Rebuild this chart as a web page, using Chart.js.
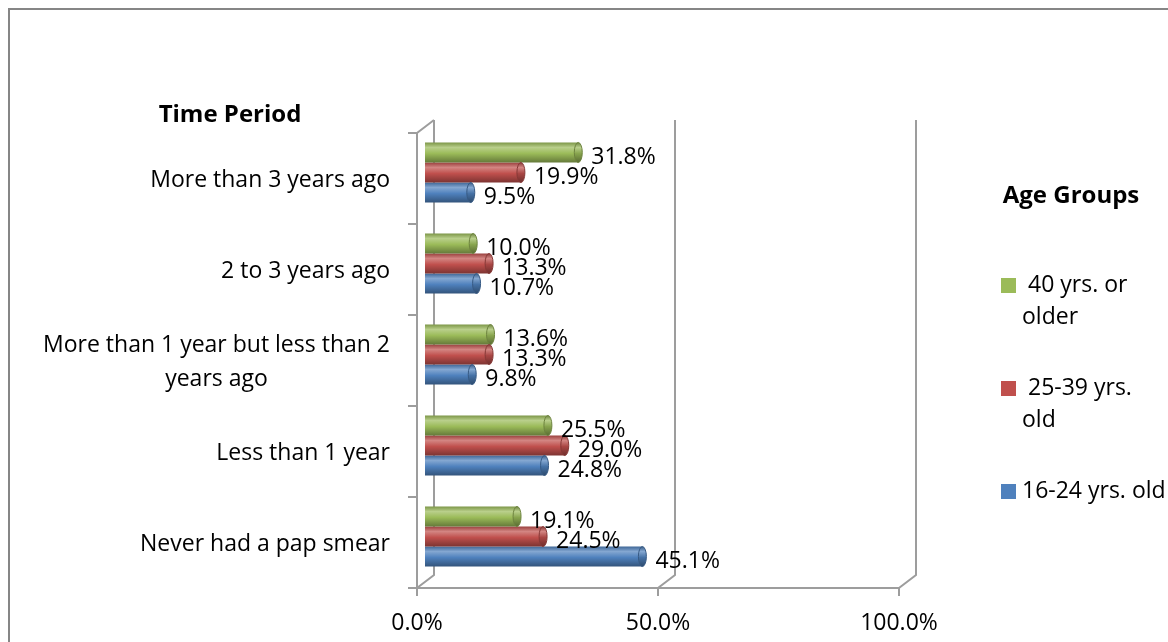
<!DOCTYPE html>
<html>
<head>
<meta charset="utf-8">
<script src="https://cdn.jsdelivr.net/npm/chart.js@4.4.0/dist/chart.umd.min.js"></script>
<style>
  html, body { margin: 0; padding: 0; background: #fff; }
  canvas { display: block; }
</style>
</head>
<body>
<canvas id="papChart" width="1168" height="642"></canvas>
<script>
const categories = ['More than 3 years ago', '2 to 3 years ago', 'More than 1 year but less than 2 years ago', 'Less than 1 year', 'Never had a pap smear'];
const categoryLines = [['More than 3 years ago'], ['2 to 3 years ago'], ['More than 1 year but less than 2', 'years ago'], ['Less than 1 year'], ['Never had a pap smear']];
const seriesNames = ['40 yrs. or older', '25-39 yrs. old', '16-24 yrs. old'];
const legendLines = [[' 40 yrs. or', 'older'], [' 25-39 yrs.', 'old'], ['16-24 yrs. old']];
const olderValues = [31.8, 10.0, 13.6, 25.5, 19.1];
const middleValues = [19.9, 13.3, 13.3, 29.0, 24.5];
const youngValues = [9.5, 10.7, 9.8, 24.8, 45.1];
const xTicks = [0, 50, 100];
const seriesColors = ['#9BBB59', '#C0504D', '#4F81BD'];

const FONT = "'Open Sans', sans-serif";
Chart.defaults.font.family = FONT;
Chart.defaults.color = '#000';

// back wall offset of the 3d frame, bars sit half way in
const depth = { dx: 17, dy: 13 };
const barShift = { dx: 8, dy: -6 };

function mix(hex, f) {
    let r = parseInt(hex.slice(1, 3), 16), g = parseInt(hex.slice(3, 5), 16), b = parseInt(hex.slice(5, 7), 16);
    if (f < 1) { r *= f; g *= f; b *= f; }
    else { const t = f - 1; r += (255 - r) * t; g += (255 - g) * t; b += (255 - b) * t; }
    return `rgb(${Math.round(r)},${Math.round(g)},${Math.round(b)})`;
}

function cylGradient(ctx, color, top, bottom, k) {
    const gr = ctx.createLinearGradient(0, top, 0, bottom);
    gr.addColorStop(0, mix(color, 0.8 * k));
    gr.addColorStop(0.25, mix(color, 1.3));
    gr.addColorStop(0.55, mix(color, 1.0 * k));
    gr.addColorStop(1, mix(color, 0.65 * k));
    return gr;
}

const frame3d = {
    id: 'frame3d',
    beforeDraw(chart) {
        const ctx = chart.ctx;
        const { left, right, top, bottom } = chart.chartArea;
        const xs = chart.scales.x, ys = chart.scales.y;
        ctx.save();
        ctx.strokeStyle = '#868686';
        ctx.lineWidth = 2;
        ctx.strokeRect(9, 9, 1400, 900);

        ctx.strokeStyle = '#9d9d9d';
        ctx.lineWidth = 2;
        ctx.beginPath();
        xTicks.forEach(v => {
            const px = xs.getPixelForValue(v);
            ctx.moveTo(px, bottom + 8);
            ctx.lineTo(px, bottom);
            ctx.lineTo(px + depth.dx, bottom - depth.dy);
            ctx.lineTo(px + depth.dx, top - depth.dy);
        });
        ctx.moveTo(left, bottom);
        ctx.lineTo(right, bottom);
        ctx.moveTo(left, bottom);
        ctx.lineTo(left, top);
        ctx.lineTo(left + depth.dx, top - depth.dy);
        for (let i = 0; i <= categories.length; i++) {
            const py = ys.getPixelForValue(i - 0.5);
            ctx.moveTo(left - 9, py);
            ctx.lineTo(left, py);
        }
        ctx.stroke();
        ctx.restore();
    },
    beforeDatasetsDraw(chart) {
        const ctx = chart.ctx;
        ctx.save();
        ctx.translate(barShift.dx, barShift.dy);
        chart.data.datasets.forEach((ds, di) => {
            chart.getDatasetMeta(di).data.forEach(el => {
                const h = el.height;
                const gr = cylGradient(ctx, seriesColors[di], el.y - h / 2, el.y + h / 2, 1);
                el.options = Object.assign({}, el.options, { backgroundColor: gr });
            });
        });
    },
    afterDatasetsDraw(chart) {
        const ctx = chart.ctx;
        // end caps of the cylinders
        chart.data.datasets.forEach((ds, di) => {
            chart.getDatasetMeta(di).data.forEach(el => {
                const h = el.height;
                ctx.beginPath();
                ctx.ellipse(el.x, el.y, 4, h / 2, 0, 0, Math.PI * 2);
                ctx.fillStyle = cylGradient(ctx, seriesColors[di], el.y - h / 2, el.y + h / 2, 0.88);
                ctx.fill();
                ctx.strokeStyle = mix(seriesColors[di], 0.7);
                ctx.lineWidth = 1;
                ctx.stroke();
            });
        });
        // value labels
        ctx.font = `23px ${FONT}`;
        ctx.fillStyle = '#000';
        ctx.textAlign = 'left';
        ctx.textBaseline = 'middle';
        chart.data.datasets.forEach((ds, di) => {
            chart.getDatasetMeta(di).data.forEach((el, i) => {
                ctx.fillText(ds.data[i].toFixed(1) + '%', el.x + 13, el.y + 5);
            });
        });
        ctx.restore();
    },
    afterDraw(chart) {
        const ctx = chart.ctx;
        const ys = chart.scales.y;
        ctx.save();
        ctx.fillStyle = '#000';
        ctx.textBaseline = 'middle';

        ctx.font = `bold 24px ${FONT}`;
        ctx.textAlign = 'center';
        ctx.fillText('Time Period', 230, 115);
        ctx.fillText('Age Groups', 1071, 196);

        // category labels
        ctx.font = `23px ${FONT}`;
        const labelRight = 390, lh = 34;
        categoryLines.forEach((lines, i) => {
            const cy = ys.getPixelForValue(i) + 2;
            const w = Math.max(...lines.map(t => ctx.measureText(t).width));
            const cx = labelRight - w / 2;
            lines.forEach((t, j) => {
                ctx.fillText(t, cx, cy + (j - (lines.length - 1) / 2) * lh);
            });
        });

        // legend
        ctx.textAlign = 'left';
        let ly = 285;
        legendLines.forEach((lines, i) => {
            ctx.fillStyle = seriesColors[i];
            ctx.fillRect(1001, ly - 7, 15, 15);
            ctx.fillStyle = '#000';
            lines.forEach((t, j) => ctx.fillText(t, 1022, ly + j * 32));
            ly += lines.length * 32 + 39;
        });
        ctx.restore();
    }
};

new Chart(document.getElementById('papChart'), {
    type: 'bar',
    data: {
        labels: categories,
        datasets: [
            { label: seriesNames[0], data: olderValues, backgroundColor: seriesColors[0] },
            { label: seriesNames[1], data: middleValues, backgroundColor: seriesColors[1] },
            { label: seriesNames[2], data: youngValues, backgroundColor: seriesColors[2] }
        ]
    },
    options: {
        indexAxis: 'y',
        responsive: false,
        animation: false,
        datasets: { bar: { categoryPercentage: 0.66, barPercentage: 1, borderWidth: 0 } },
        layout: { padding: { left: 417, right: 269, top: 133, bottom: 0 } },
        plugins: { legend: { display: false }, tooltip: { enabled: false } },
        scales: {
            x: {
                min: 0,
                max: 100,
                grid: { display: false },
                border: { display: false },
                ticks: {
                    stepSize: 50,
                    padding: 14,
                    font: { size: 23 },
                    color: '#000',
                    callback: v => v.toFixed(1) + '%'
                },
                afterFit: s => { s.height = 54; }
            },
            y: { display: false }
        }
    },
    plugins: [frame3d]
});
</script>
</body>
</html>
